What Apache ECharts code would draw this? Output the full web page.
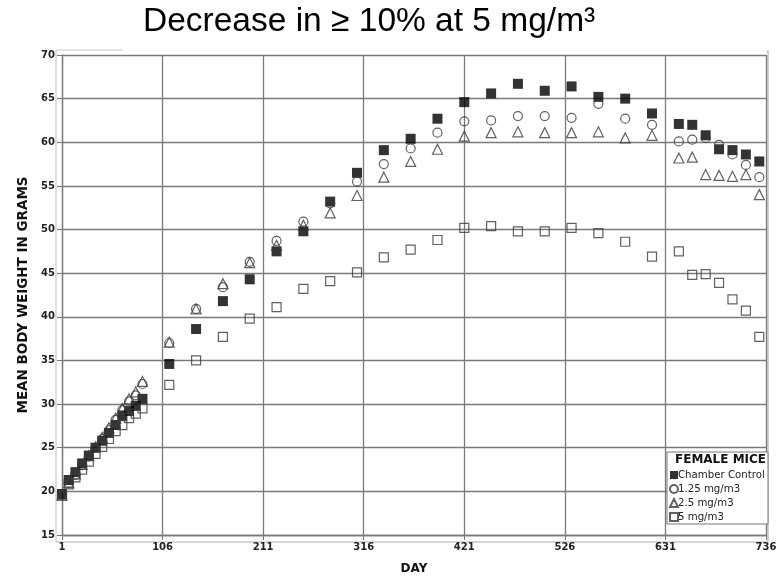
<!DOCTYPE html>
<html>
<head>
<meta charset="utf-8">
<script src="https://cdn.jsdelivr.net/npm/echarts@6/dist/echarts.min.js"></script>
<style>
  html, body { margin: 0; padding: 0; background: #fff; }
  #chart { width: 784px; height: 580px; }
</style>
</head>
<body>
<div id="chart"></div>
<script>
// study days (weekly to day 85, then every 4 weeks, then every 2 weeks)
var days = [1, 8, 15, 22, 29, 36, 43, 50, 57, 64, 71, 78, 85,
  113, 141, 169, 197, 225, 253, 281, 309, 337, 365, 393, 421, 449, 477,
  505, 533, 561, 589, 617, 645, 659, 673, 687, 701, 715, 729];

var control = [19.7, 21.3, 22.2, 23.2, 24.1, 25.0, 25.8, 26.7, 27.6, 28.7, 29.2, 29.8, 30.6,
  34.6, 38.6, 41.8, 44.3, 47.5, 49.8, 53.2, 56.5, 59.1, 60.4, 62.7, 64.6, 65.6, 66.7,
  65.9, 66.4, 65.2, 65.0, 63.3, 62.1, 62.0, 60.8, 59.2, 59.1, 58.6, 57.8];

var dose125 = [19.6, 21.0, 21.9, 23.0, 24.0, 25.0, 26.0, 27.0, 28.2, 29.3, 30.3, 31.0, 32.3,
  37.0, 40.9, 43.4, 46.3, 48.7, 50.9, 53.0, 55.5, 57.5, 59.3, 61.1, 62.4, 62.5, 63.0,
  63.0, 62.8, 64.4, 62.7, 62.0, 60.1, 60.3, 60.5, 59.7, 58.6, 57.4, 56.0];

var dose25 = [19.6, 21.0, 22.0, 23.1, 24.1, 25.1, 26.2, 27.3, 28.4, 29.5, 30.6, 31.4, 32.6,
  37.1, 40.9, 43.8, 46.2, 48.2, 50.5, 51.9, 53.9, 56.0, 57.8, 59.2, 60.7, 61.1, 61.2,
  61.1, 61.1, 61.2, 60.5, 60.8, 58.2, 58.3, 56.3, 56.2, 56.1, 56.3, 54.0];

var dose5 = [19.5, 20.8, 21.6, 22.5, 23.4, 24.3, 25.1, 26.0, 26.9, 27.6, 28.4, 28.9, 29.5,
  32.2, 35.0, 37.7, 39.8, 41.1, 43.2, 44.1, 45.1, 46.8, 47.7, 48.8, 50.2, 50.4, 49.8,
  49.8, 50.2, 49.6, 48.6, 46.9, 47.5, 44.8, 44.9, 43.9, 42.0, 40.7, 37.7];

var seriesNames = ["Chamber Control", "1.25 mg/m3", "2.5 mg/m3", "5 mg/m3"];

function pairs(vals) {
  var out = [];
  for (var i = 0; i < days.length; i++) out.push([days[i], vals[i]]);
  return out;
}

var gridColor = "#7a7a7a";
var font = "DejaVu Sans";

var chart = echarts.init(document.getElementById("chart"));

var option = {
  backgroundColor: "#fff",
  animation: false,
  grid: { left: 62, right: 18, top: 55, bottom: 41 },
  xAxis: {
    type: "value",
    min: 1,
    max: 736,
    interval: 105,
    name: "DAY",
    nameLocation: "middle",
    nameGap: 28,
    nameTextStyle: { fontFamily: font, fontWeight: "bold", fontSize: 12, color: "#111" },
    axisLine: { lineStyle: { color: gridColor, width: 1.3 } },
    axisTick: { length: 5, lineStyle: { color: gridColor } },
    axisLabel: { fontFamily: font, fontWeight: "bold", fontSize: 10, color: "#222", margin: 7 },
    splitLine: { show: true, lineStyle: { color: gridColor, width: 1.3 } }
  },
  yAxis: {
    type: "value",
    min: 15,
    max: 70,
    interval: 5,
    name: "MEAN BODY WEIGHT IN GRAMS",
    nameLocation: "middle",
    nameGap: 32,
    nameTextStyle: { fontFamily: font, fontWeight: "bold", fontSize: 13.5, color: "#111" },
    axisLine: { show: true, lineStyle: { color: gridColor, width: 1.3 } },
    axisTick: { show: true, length: 5, lineStyle: { color: gridColor } },
    axisLabel: { fontFamily: font, fontWeight: "bold", fontSize: 10, color: "#222", margin: 7 },
    splitLine: { show: true, lineStyle: { color: gridColor, width: 1.3 } }
  },
  legend: {
    left: 669,
    top: 470,
    z: 20,
    orient: "vertical",
    itemWidth: 8,
    itemHeight: 8,
    itemGap: 4,
    padding: 0,
    data: seriesNames,
    textStyle: { fontFamily: font, fontSize: 10.2, color: "#222", padding: [0, 0, 0, -5] }
  },
  graphic: [
    // outer frame
    { type: "line", shape: { x1: 56, y1: 50, x2: 56, y2: 542 }, style: { stroke: "#c8c8c8", lineWidth: 1.2 } },
    { type: "line", shape: { x1: 56, y1: 542, x2: 768, y2: 542 }, style: { stroke: "#b0b0b0", lineWidth: 1.2 } },
    { type: "line", shape: { x1: 768, y1: 50, x2: 768, y2: 542 }, style: { stroke: "#b0b0b0", lineWidth: 1.2 } },
    { type: "line", shape: { x1: 56, y1: 50, x2: 122, y2: 50 }, style: { stroke: "#c8c8c8", lineWidth: 1.2 } },
    // legend box and heading
    { type: "rect", z: 10, shape: { x: 667, y: 452, width: 101, height: 72 },
      style: { fill: "#fff", stroke: "#777", lineWidth: 1 } },
    { type: "text", z: 11, left: 675, top: 454,
      style: { text: "FEMALE MICE", fontFamily: font, fontWeight: "bold", fontSize: 12, fill: "#111" } },
    // title
    { type: "text", left: 143, top: 5,
      style: { text: "Decrease in \u2265 10% at 5 mg/m\u00b3", fontFamily: "Liberation Sans", fontSize: 33.5, fill: "#000" } }
  ],
  series: [
    {
      name: seriesNames[0],
      type: "scatter",
      symbol: "rect",
      symbolSize: 10,
      itemStyle: { color: "#000", borderColor: "#000", borderWidth: 0 },
      data: pairs(control)
    },
    {
      name: seriesNames[1],
      type: "scatter",
      symbol: "circle",
      symbolSize: 9,
      itemStyle: { color: "transparent", borderColor: "#3a3a3a", borderWidth: 1.2 },
      data: pairs(dose125)
    },
    {
      name: seriesNames[2],
      type: "scatter",
      symbol: "triangle",
      symbolSize: 10,
      itemStyle: { color: "transparent", borderColor: "#3a3a3a", borderWidth: 1.2 },
      data: pairs(dose25)
    },
    {
      name: seriesNames[3],
      type: "scatter",
      symbol: "rect",
      symbolSize: 9,
      itemStyle: { color: "transparent", borderColor: "#3a3a3a", borderWidth: 1.2 },
      data: pairs(dose5)
    }
  ]
};

chart.setOption(option);
</script>
</body>
</html>
